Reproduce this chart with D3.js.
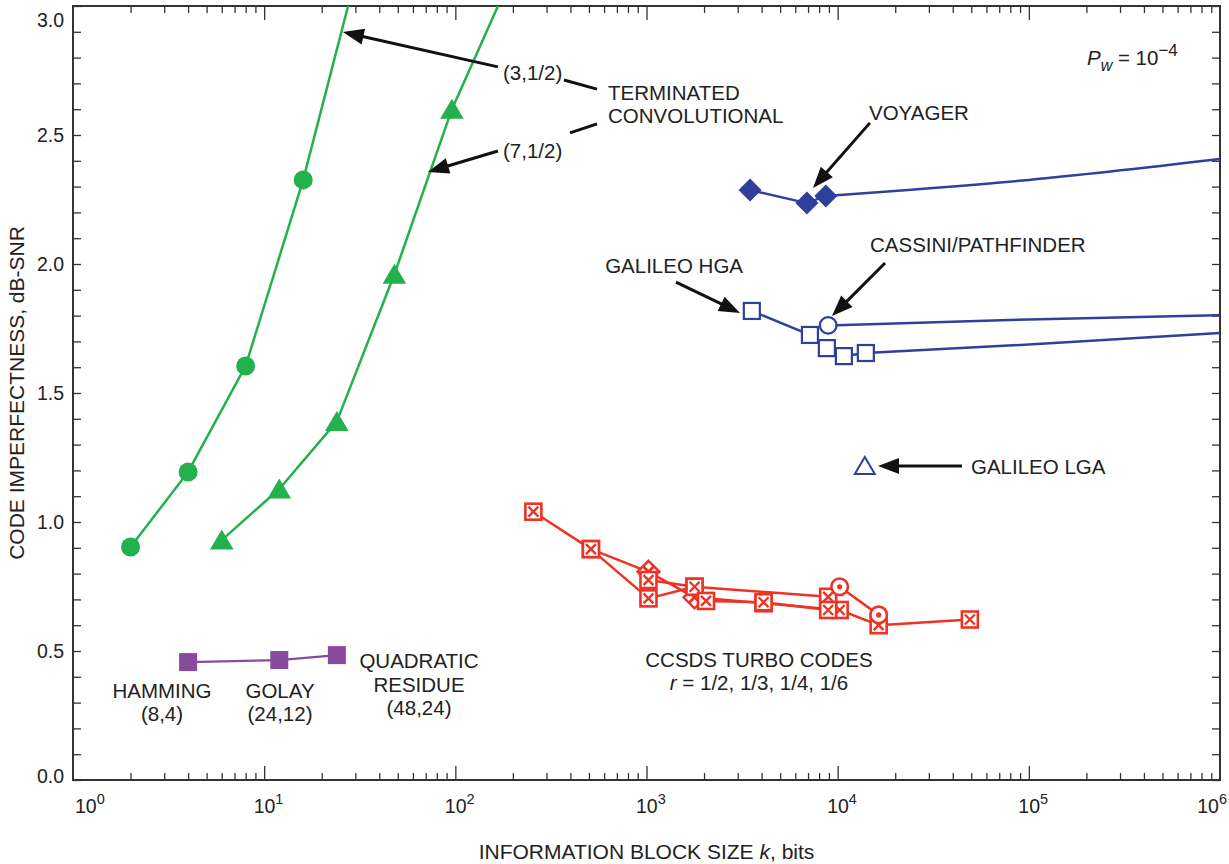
<!DOCTYPE html>
<html>
<head>
<meta charset="utf-8">
<script src="https://cdn.jsdelivr.net/npm/d3@7"></script>
<style>
  html, body { margin: 0; padding: 0; background: #fff; }
  svg { display: block; font-family: "Liberation Sans", Arial, Helvetica, sans-serif; }
</style>
</head>
<body>
<svg id="chart" width="1229" height="864"></svg>
<script>
// ---------------- DATA ----------------
const xDecades = [1, 10, 100, 1000, 10000, 100000, 1000000];
const xDecadeExps = ["0", "1", "2", "3", "4", "5", "6"];
const yTickLabels = [0, 0.5, 1.0, 1.5, 2.0, 2.5, 3.0];

// Terminated convolutional (3,1/2)  (last point beyond the top, clipped)
const conv3K = [2, 4, 8, 16, 32];
const conv3V = [0.903, 1.194, 1.605, 2.326, 3.19];
const conv3Marked = [true, true, true, true, false];
// Terminated convolutional (7,1/2)
const conv7K = [6, 12, 24, 48, 96, 192];
const conv7V = [0.93, 1.128, 1.39, 1.96, 2.60, 3.1];
const conv7Marked = [true, true, true, true, true, false];
// Hamming / Golay / Quadratic residue
const blockK = [4, 12, 24];
const blockV = [0.457, 0.465, 0.484];
// Voyager
const voyagerK = [3480, 6900, 8670, 100000, 1000000];
const voyagerV = [2.287, 2.236, 2.264, 2.326, 2.407];
const voyagerMarked = [true, true, true, false, false];
// Galileo HGA
const hgaK = [3556, 7160, 8780, 10780, 14040, 100000, 1000000];
const hgaV = [1.818, 1.725, 1.674, 1.643, 1.655, 1.688, 1.733];
const hgaMarked = [true, true, true, true, true, false, false];
// Cassini / Pathfinder
const cassiniK = [8920, 100000, 1000000];
const cassiniV = [1.762, 1.785, 1.802];
const cassiniMarked = [true, false, false];
// Galileo LGA
const lgaK = [13870];
const lgaV = [1.217];
// CCSDS turbo codes
const turbo1K = [256, 512, 1024, 1784, 8920];
const turbo1V = [1.04, 0.895, 0.704, 0.749, 0.71];
const turbo1Shape = ["boxX", "boxX", "boxX", "boxX", "boxX"];
const turbo2K = [512, 1024, 1784, 4096, 10240, 16384, 49152];
const turbo2V = [0.895, 0.807, 0.708, 0.685, 0.659, 0.60, 0.622];
const turbo2Shape = ["boxX", "diamondX", "diamondX", "boxX", "boxX", "boxX", "boxX"];
const turbo3K = [1024, 1784, 2048, 4096, 8920];
const turbo3V = [0.775, 0.749, 0.694, 0.689, 0.659];
const turbo3Shape = ["boxX", "boxX", "boxX", "boxX", "boxX"];
const turbo4K = [10240, 16384];
const turbo4V = [0.749, 0.64];
const turbo4Shape = ["circleDot", "circleDot"];

// ---------------- SETUP ----------------
const svg = d3.select("#chart");
const L = 73, R = 1220, T = 6, B = 780;
const x = d3.scaleLog().domain([1, 1e6]).range([L, R]);
const y = d3.scaleLinear().domain([0, 3]).range([B, T]);

const GREEN = "#22b14c", BLUE = "#2e3f9c", PURPLE = "#884a9c", RED = "#ee3324";
const AXIS = "#333";
const ANN = 20.5;

svg.append("defs").append("clipPath").attr("id", "plotclip")
  .append("rect").attr("x", L).attr("y", T).attr("width", R - L).attr("height", B - T);

// ---------------- AXES ----------------
const minorX = [];
xDecades.slice(0, -1).forEach(d => { for (let m = 2; m <= 9; m++) minorX.push(d * m); });
const yTicks = d3.range(0, 31).map(i => i / 10);

function styleAxis(g) {
  g.select(".domain").remove();
  g.selectAll(".tick line").attr("stroke", AXIS).attr("stroke-width", 1.3);
}
svg.append("g").attr("transform", `translate(0,${B})`)
  .call(d3.axisBottom(x).tickValues(xDecades.slice(1, -1)).tickSize(-14).tickFormat(""))
  .call(styleAxis);
svg.append("g").attr("transform", `translate(0,${B})`)
  .call(d3.axisBottom(x).tickValues(minorX).tickSize(-7).tickFormat(""))
  .call(styleAxis);
svg.append("g").attr("transform", `translate(0,${T})`)
  .call(d3.axisTop(x).tickValues(xDecades.slice(1, -1)).tickSize(-14).tickFormat(""))
  .call(styleAxis);
svg.append("g").attr("transform", `translate(0,${T})`)
  .call(d3.axisTop(x).tickValues(minorX).tickSize(-7).tickFormat(""))
  .call(styleAxis);
svg.append("g").attr("transform", `translate(${L},0)`)
  .call(d3.axisLeft(y).tickValues(yTicks).tickSize(-8).tickPadding(9)
    .tickFormat(d => yTickLabels.some(v => Math.abs(v - d) < 1e-9) ? d.toFixed(1) : ""))
  .call(styleAxis)
  .call(g => g.selectAll(".tick text").attr("font-size", 19.5).attr("fill", "#222")
    .attr("font-family", "Liberation Sans, Arial, sans-serif")
    .attr("dy", d => d >= 2.99 ? "1.05em" : (d < 0.01 ? "0.15em" : "0.32em")));
svg.append("g").attr("transform", `translate(${R},0)`)
  .call(d3.axisRight(y).tickValues(yTicks).tickSize(-8).tickFormat(""))
  .call(styleAxis);

svg.append("rect").attr("x", L).attr("y", T).attr("width", R - L).attr("height", B - T)
  .attr("fill", "none").attr("stroke", AXIS).attr("stroke-width", 2);

// x decade labels 10^n
xDecades.forEach((d, i) => {
  const t = svg.append("text").attr("y", 813).attr("font-size", 19.5).attr("fill", "#222");
  t.append("tspan").text("10");
  t.append("tspan").attr("dy", -9).attr("font-size", 14.5).text(xDecadeExps[i]);
  let px = x(d);
  if (i === 0) t.attr("x", px + 2).attr("text-anchor", "start");
  else if (i === xDecades.length - 1) t.attr("x", px + 7).attr("text-anchor", "end");
  else t.attr("x", px - 10.5).attr("text-anchor", "start");
});

// axis titles
const xt = svg.append("text").attr("x", (L + R) / 2).attr("y", 859).attr("text-anchor", "middle")
  .attr("font-size", 21).attr("fill", "#222");
xt.append("tspan").text("INFORMATION BLOCK SIZE ");
xt.append("tspan").attr("font-style", "italic").text("k");
xt.append("tspan").text(", bits");

svg.append("text").attr("transform", `translate(24,${(T + B) / 2}) rotate(-90)`)
  .attr("text-anchor", "middle").attr("font-size", 21).attr("fill", "#222")
  .text("CODE IMPERFECTNESS, dB-SNR");

// ---------------- MARKS ----------------
const plot = svg.append("g").attr("clip-path", "url(#plotclip)");

function zip(K, V) { return K.map((k, i) => ({ k, v: V[i], i })); }
function drawLine(K, V, color, width, curve) {
  plot.append("path").datum(zip(K, V))
    .attr("fill", "none").attr("stroke", color).attr("stroke-width", width)
    .attr("stroke-linejoin", "round")
    .attr("d", d3.line().x(d => x(d.k)).y(d => y(d.v)).curve(curve || d3.curveLinear));
}
// straight segments between markers, smooth tail after the last marker
function drawLineWithTail(K, V, marked, color, width) {
  const last = marked.lastIndexOf(true);
  drawLine(K.slice(0, last + 1), V.slice(0, last + 1), color, width);
  if (last < K.length - 1)
    drawLine(K.slice(last), V.slice(last), color, width, d3.curveMonotoneX);
}

function drawMarker(g, shape, cx, cy, color) {
  const m = g.append("g").attr("transform", `translate(${cx},${cy})`);
  if (shape === "circleFilled") {
    m.append("circle").attr("r", 9.5).attr("fill", color);
  } else if (shape === "triFilled") {
    m.append("path").attr("d", "M0,-10.5L11.8,9.5L-11.8,9.5Z").attr("fill", color);
  } else if (shape === "squareFilled") {
    m.append("rect").attr("x", -9).attr("y", -9).attr("width", 18).attr("height", 18).attr("fill", color);
  } else if (shape === "diamondFilled") {
    m.append("path").attr("d", "M0,-11.5L11.5,0L0,11.5L-11.5,0Z").attr("fill", color);
  } else if (shape === "squareOpen") {
    m.append("rect").attr("x", -8).attr("y", -8).attr("width", 16).attr("height", 16)
      .attr("fill", "#fff").attr("stroke", color).attr("stroke-width", 2.2);
  } else if (shape === "circleOpen") {
    m.append("circle").attr("r", 8.3).attr("fill", "#fff").attr("stroke", color).attr("stroke-width", 2.3);
  } else if (shape === "triOpen") {
    m.append("path").attr("d", "M0,-9L10,8L-10,8Z").attr("fill", "#fff")
      .attr("stroke", color).attr("stroke-width", 2).attr("stroke-linejoin", "miter");
  } else if (shape === "boxX") {
    m.append("rect").attr("x", -8).attr("y", -8).attr("width", 16).attr("height", 16)
      .attr("fill", "#fff").attr("stroke", color).attr("stroke-width", 2.6);
    m.append("path").attr("d", "M-5,-5L5,5M5,-5L-5,5").attr("stroke", color).attr("stroke-width", 2.4);
  } else if (shape === "diamondX") {
    m.append("path").attr("d", "M0,-11L11,0L0,11L-11,0Z").attr("fill", "#fff")
      .attr("stroke", color).attr("stroke-width", 2.4);
    m.append("path").attr("d", "M-5,-5L5,5M5,-5L-5,5").attr("stroke", color).attr("stroke-width", 2.8);
  } else if (shape === "circleDot") {
    m.append("circle").attr("r", 8.3).attr("fill", "#fff").attr("stroke", color).attr("stroke-width", 2.6);
    m.append("circle").attr("r", 2.6).attr("fill", color);
  }
}
function drawMarkers(K, V, shapes, color) {
  const g = plot.append("g");
  K.forEach((k, i) => {
    const s = typeof shapes === "string" ? shapes : shapes[i];
    if (s) drawMarker(g, s, x(k), y(V[i]), color);
  });
}
const sel = (marked, shape) => marked.map(b => b ? shape : null);

// green convolutional
drawLine(conv3K, conv3V, GREEN, 2.5);
drawLine(conv7K, conv7V, GREEN, 2.5);
drawMarkers(conv3K, conv3V, sel(conv3Marked, "circleFilled"), GREEN);
drawMarkers(conv7K, conv7V, sel(conv7Marked, "triFilled"), GREEN);

// purple block codes
drawLine(blockK, blockV, PURPLE, 2.2);
drawMarkers(blockK, blockV, "squareFilled", PURPLE);

// blue
drawLineWithTail(voyagerK, voyagerV, voyagerMarked, BLUE, 2.5);
drawLineWithTail(hgaK, hgaV, hgaMarked, BLUE, 2.5);
drawLineWithTail(cassiniK, cassiniV, cassiniMarked, BLUE, 2.5);
drawMarkers(voyagerK, voyagerV, sel(voyagerMarked, "diamondFilled"), BLUE);
drawMarkers(hgaK, hgaV, sel(hgaMarked, "squareOpen"), BLUE);
drawMarkers(cassiniK, cassiniV, sel(cassiniMarked, "circleOpen"), BLUE);
drawMarkers(lgaK, lgaV, "triOpen", BLUE);

// red turbo
drawLine(turbo1K, turbo1V, RED, 2.5);
drawLine(turbo2K, turbo2V, RED, 2.5);
drawLine(turbo3K, turbo3V, RED, 2.5);
drawLine(turbo4K, turbo4V, RED, 2.5);
drawMarkers(turbo2K, turbo2V, turbo2Shape, RED);
drawMarkers(turbo1K, turbo1V, turbo1Shape, RED);
drawMarkers(turbo3K, turbo3V, turbo3Shape, RED);
drawMarkers(turbo4K, turbo4V, turbo4Shape, RED);

// ---------------- ANNOTATIONS ----------------
function arrow(k0, v0, k1, v1) {
  const x0 = x(k0), y0 = y(v0), x1 = x(k1), y1 = y(v1);
  const a = Math.atan2(y1 - y0, x1 - x0);
  const len = 21, hw = 8;
  const bx = x1 - len * Math.cos(a), by = y1 - len * Math.sin(a);
  svg.append("line").attr("x1", x0).attr("y1", y0)
    .attr("x2", x1 - (len - 3) * Math.cos(a)).attr("y2", y1 - (len - 3) * Math.sin(a))
    .attr("stroke", "#111").attr("stroke-width", 3);
  const p = [[x1, y1], [bx + hw * Math.sin(a), by - hw * Math.cos(a)], [bx - hw * Math.sin(a), by + hw * Math.cos(a)]];
  svg.append("path").attr("d", "M" + p.map(q => q.join(",")).join("L") + "Z").attr("fill", "#111");
}
function seg(k0, v0, k1, v1) {
  svg.append("line").attr("x1", x(k0)).attr("y1", y(v0)).attr("x2", x(k1)).attr("y2", y(v1))
    .attr("stroke", "#111").attr("stroke-width", 3);
}
function label(px, py, txt, anchor) {
  return svg.append("text").attr("x", px).attr("y", py).attr("font-size", ANN).attr("fill", "#222")
    .attr("text-anchor", anchor || "start").text(txt);
}

arrow(167, 2.764, 25.8, 2.899);
arrow(167, 2.438, 71.9, 2.357);
label(503, 80, "(3,1/2)");
label(503, 158, "(7,1/2)");
seg(370, 2.713, 551, 2.678);
seg(398, 2.508, 551, 2.543);
label(608, 100, "TERMINATED");
label(608, 123, "CONVOLUTIONAL");

label(869, 120, "VOYAGER");
arrow(14750, 2.547, 7430, 2.295);
label(870, 252, "CASSINI/PATHFINDER");
arrow(17700, 2.004, 9340, 1.798);
label(743, 273, "GALILEO HGA", "end");
arrow(1426, 1.93, 3085, 1.81);
label(971, 474, "GALILEO LGA");
arrow(44700, 1.217, 16250, 1.217);

label(759, 667, "CCSDS TURBO CODES", "middle");
const rt = svg.append("text").attr("x", 759).attr("y", 690).attr("font-size", ANN).attr("fill", "#222")
  .attr("text-anchor", "middle");
rt.append("tspan").attr("font-style", "italic").text("r");
rt.append("tspan").text(" = 1/2, 1/3, 1/4, 1/6");

label(162, 698, "HAMMING", "middle");
label(162, 721, "(8,4)", "middle");
label(280, 698, "GOLAY", "middle");
label(280, 721, "(24,12)", "middle");
label(419, 668, "QUADRATIC", "middle");
label(419, 692, "RESIDUE", "middle");
label(419, 715, "(48,24)", "middle");

const pw = svg.append("text").attr("x", 1087).attr("y", 65).attr("font-size", ANN).attr("fill", "#222");
pw.append("tspan").attr("font-style", "italic").text("P");
pw.append("tspan").attr("font-style", "italic").attr("font-size", 16).attr("dy", 6).text("w");
pw.append("tspan").attr("dy", -6).text(" = 10");
pw.append("tspan").attr("dy", -9).attr("font-size", 17).text("\u22124");
</script>
</body>
</html>
